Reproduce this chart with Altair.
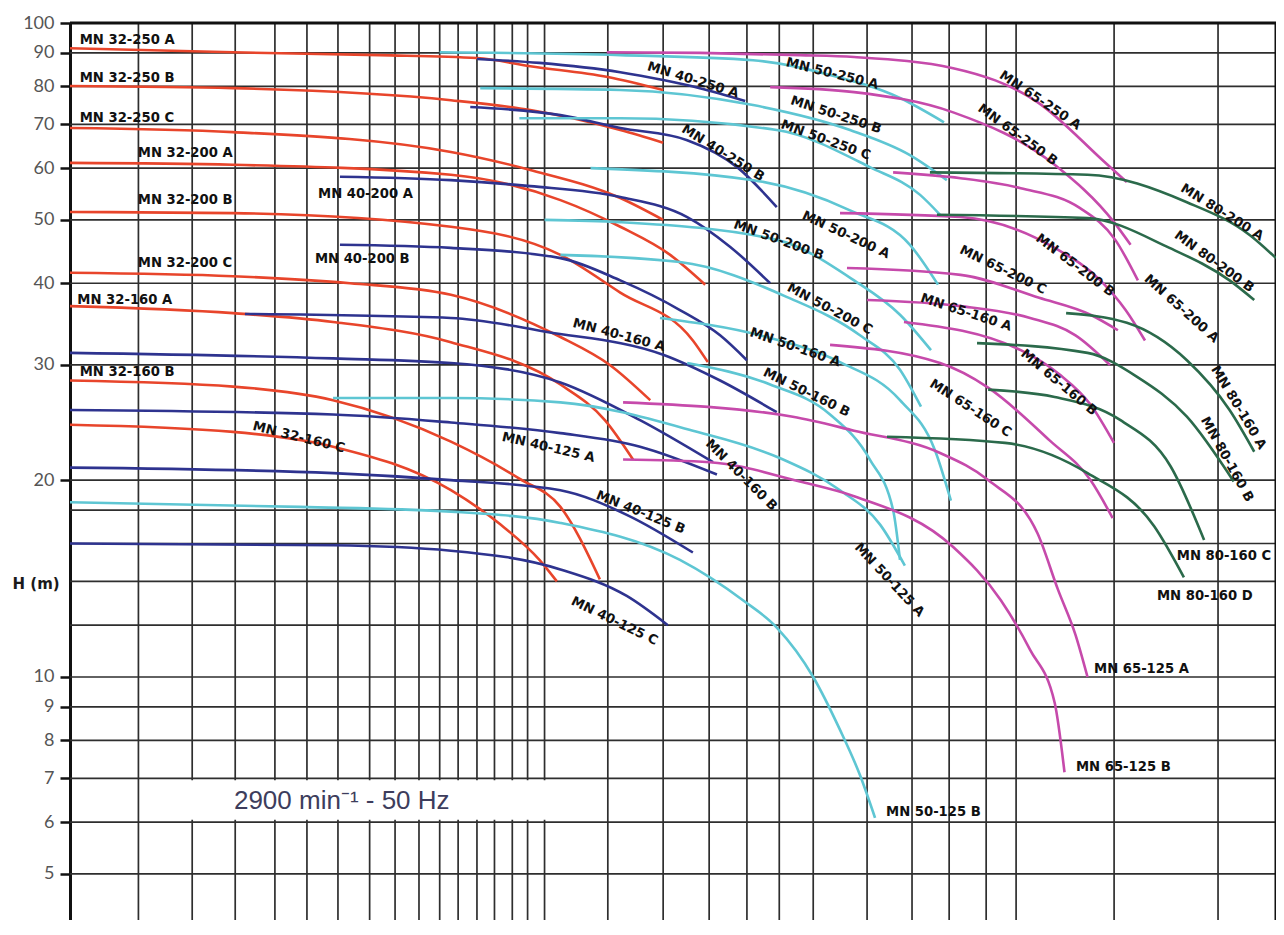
import altair as alt
import pandas as pd

# ---------------- axes / grid values ----------------
Q_DOMAIN = [3.05, 363]      # flow (no printed labels in the reference)
H_DOMAIN = [4.25, 100]      # head H (m)

GRID_Q = [4.0, 4.95, 5.87, 6.87, 7.8, 8.82, 10.0, 11.06, 12.16, 13.2, 14.2, 15.3,
          16.4, 17.6, 18.7, 20.0, 25.7, 32.0, 38.4, 44.6, 50.7, 58.0, 71.8, 85.8,
          99.4, 115.1, 129.6, 191.1, 288.5]
GRID_H = [5, 6, 7, 8, 9, 10, 12, 14, 16, 18, 20, 30, 40, 50, 60, 70, 80, 90]
H_TICKS = [5, 6, 7, 8, 9, 10, 20, 30, 40, 50, 60, 70, 80, 90, 100]

# ---------------- pump curves (Q, H) ----------------
MN32 = {
    "MN 32-250 A": ([3.05, 5.82, 10.4, 15.3, 18.9, 25.7, 32.0], [91.5, 90.2, 89.3, 88.4, 85.9, 82.7, 79.0]),
    "MN 32-250 B": ([3.05, 5.82, 13.8, 18.9, 27.0, 32.0], [80.1, 79.5, 76.2, 73.6, 68.6, 65.6]),
    "MN 32-250 C": ([3.05, 5.82, 13.8, 18.9, 27.0, 32.0], [69.1, 68.1, 63.5, 59.6, 54.0, 50.0]),
    "MN 32-200 A": ([3.05, 5.82, 13.8, 21.3, 27.0, 32.9, 37.8], [61.1, 60.7, 58.6, 53.6, 48.8, 44.2, 39.8]),
    "MN 32-200 B": ([3.05, 5.82, 13.8, 21.3, 27.0, 36.0, 38.2], [51.4, 51.2, 48.8, 44.2, 38.7, 32.7, 30.3]),
    "MN 32-200 C": ([3.05, 5.82, 9.25, 13.8, 21.3, 25.9, 30.4], [41.5, 41.0, 40.0, 38.4, 33.1, 30.0, 26.5]),
    "MN 32-160 A": ([3.05, 5.82, 8.65, 13.8, 21.3, 25.4, 28.4], [36.9, 36.0, 34.9, 32.5, 28.0, 24.7, 21.5]),
    "MN 32-160 B": ([3.05, 5.82, 8.65, 13.8, 18.1, 21.3, 24.9], [28.4, 27.8, 26.5, 22.9, 20.1, 18.2, 14.1]),
    "MN 32-160 C": ([3.05, 5.82, 8.65, 13.8, 16.8, 19.6, 21.0], [24.3, 23.7, 22.5, 19.3, 17.1, 15.1, 14.0]),
}
MN40 = {
    "MN 40-250 A": ([15.3, 19.6, 27.0, 32.0, 37.0, 44.3], [88.1, 86.9, 84.1, 81.8, 79.5, 76.0]),
    "MN 40-250 B": ([14.9, 21.3, 27.0, 35.2, 42.9, 50.2], [74.4, 72.3, 69.1, 66.2, 60.2, 52.3]),
    "MN 40-200 A": ([8.89, 13.8, 18.9, 27.0, 35.2, 41.7, 48.9], [58.2, 57.5, 56.3, 54.2, 50.5, 45.5, 40.0]),
    "MN 40-200 B": ([8.89, 13.8, 21.3, 27.0, 34.2, 40.1, 44.6], [45.8, 45.3, 43.7, 40.4, 36.4, 33.3, 30.5]),
    "MN 40-160 A": ([6.10, 13.8, 20.2, 32.0, 40.1, 50.2], [35.9, 35.4, 33.7, 31.1, 28.4, 25.4]),
    "MN 40-160 B": ([3.05, 8.65, 13.8, 21.3, 29.2, 39.0], [31.3, 30.7, 30.2, 28.2, 24.7, 21.3]),
    "MN 40-125 A": ([3.05, 8.65, 13.8, 21.3, 29.2, 39.6], [25.6, 25.2, 24.5, 23.6, 22.5, 20.4]),
    "MN 40-125 B": ([3.05, 8.65, 13.8, 21.3, 27.7, 36.0], [20.9, 20.5, 20.0, 19.3, 17.7, 15.5]),
    "MN 40-125 C": ([3.05, 8.65, 13.8, 21.3, 27.7, 32.6], [16.0, 15.9, 15.6, 14.6, 13.3, 12.0]),
}
MN50 = {
    "MN 50-250 A": ([13.2, 27.0, 45.7, 62.0, 81.8, 97.4], [90.2, 89.3, 87.7, 83.3, 76.8, 70.5]),
    "MN 50-250 B": ([15.5, 27.0, 45.7, 67.1, 85.1, 98.5], [79.5, 79.0, 74.9, 68.6, 62.8, 57.5]),
    "MN 50-250 C": ([18.1, 27.0, 50.2, 72.6, 88.6, 95.9], [71.5, 71.5, 68.6, 60.2, 54.6, 50.9]),
    "MN 50-200 A": ([24.0, 45.7, 67.1, 85.1, 95.1], [60.0, 57.5, 51.7, 45.8, 39.8]),
    "MN 50-200 B": ([20.0, 27.0, 50.2, 68.2, 81.8, 92.5], [50.0, 49.6, 46.6, 40.4, 35.8, 31.6]),
    "MN 50-200 C": ([21.3, 34.2, 52.3, 69.8, 81.8, 88.9], [44.2, 43.1, 38.1, 33.3, 29.5, 25.9]),
    "MN 50-160 A": ([31.6, 47.0, 64.5, 81.8, 94.0, 100.1], [35.4, 33.3, 30.3, 26.5, 22.2, 18.6]),
    "MN 50-160 B": ([35.2, 48.9, 62.0, 72.6, 79.6, 81.8], [30.2, 28.0, 25.2, 21.5, 18.0, 15.1]),
    "MN 50-125 A": ([8.65, 13.8, 21.3, 36.0, 50.9, 64.5, 75.6, 83.4], [26.7, 26.7, 26.3, 23.8, 21.6, 19.3, 17.1, 14.8]),
    "MN 50-125 B": ([3.05, 7.59, 13.8, 21.3, 34.2, 43.9, 50.2, 58.0, 64.5, 69.8, 74.1],
                    [18.5, 18.2, 17.9, 17.2, 15.1, 13.1, 11.9, 10.0, 8.30, 7.08, 6.09]),
}
MN65 = {
    "MN 65-250 A": ([25.6, 37.0, 55.0, 68.2, 101, 141, 184, 201], [90.2, 90.0, 89.3, 88.7, 85.3, 75.7, 61.3, 57.1]),
    "MN 65-250 B": ([48.9, 68.2, 101, 151, 191, 204], [79.8, 78.4, 73.0, 60.7, 49.6, 45.8]),
    "MN 65-200 A": ([79.6, 104, 132, 167, 192, 210], [59.1, 57.9, 55.9, 52.1, 46.6, 40.4]),
    "MN 65-200 B": ([64.5, 104, 151, 181, 200, 216], [51.2, 50.5, 45.3, 40.4, 36.4, 32.7]),
    "MN 65-200 C": ([66.3, 104, 142, 174, 194], [42.2, 41.2, 38.0, 35.8, 33.9]),
    "MN 65-160 A": ([71.8, 104, 137, 164, 188], [37.7, 36.9, 35.4, 33.3, 30.0]),
    "MN 65-160 B": ([83.1, 132, 154, 174, 191], [34.9, 31.6, 29.0, 26.1, 22.8]),
    "MN 65-160 C": ([62.0, 95.9, 116, 148, 174, 190], [32.2, 30.2, 27.7, 23.0, 20.0, 17.5]),
    "MN 65-125 A": ([27.3, 53.5, 68.2, 95.9, 116, 141, 153, 164, 172],
                    [26.3, 25.0, 23.8, 22.0, 20.0, 16.6, 13.6, 11.6, 10.0]),
    "MN 65-125 B": ([27.3, 38.5, 55.0, 68.2, 101, 122, 137, 151, 157],
                    [21.5, 21.3, 19.9, 18.9, 15.8, 13.1, 11.0, 9.13, 7.15]),
}
MN80 = {
    "MN 80-200 A": ([92.1, 172, 255, 327, 363], [59.1, 58.6, 53.2, 47.4, 43.7]),
    "MN 80-200 B": ([94.7, 172, 238, 302, 333], [50.9, 50.3, 45.3, 40.4, 37.7]),
    "MN 80-160 A": ([158, 201, 255, 302, 333], [36.0, 34.8, 30.5, 25.6, 22.1]),
    "MN 80-160 B": ([111, 172, 209, 255, 307], [32.4, 31.3, 28.8, 25.0, 19.9]),
    "MN 80-160 C": ([116, 151, 196, 239, 273], [27.5, 26.8, 24.7, 21.0, 16.2]),
    "MN 80-160 D": ([77.7, 124, 172, 224, 252], [23.3, 22.8, 20.5, 17.0, 14.2]),
}

FAMILIES = ["MN 32", "MN 40", "MN 50", "MN 65", "MN 80"]
FAMILY_COLORS = ["#e8452b", "#2e338f", "#5ec6d3", "#c64aab", "#2b6a4b"]

# ---------------- curve labels ----------------
LABEL_TEXT = ["MN 32-250 A", "MN 32-250 B", "MN 32-250 C", "MN 32-200 A", "MN 32-200 B", "MN 32-200 C",
              "MN 32-160 A", "MN 32-160 B", "MN 32-160 C", "MN 40-200 A", "MN 40-200 B", "MN 40-250 A",
              "MN 40-250 B", "MN 40-160 A", "MN 40-160 B", "MN 40-125 A", "MN 40-125 B", "MN 40-125 C",
              "MN 50-250 A", "MN 50-250 B", "MN 50-250 C", "MN 50-200 A", "MN 50-200 B", "MN 50-200 C",
              "MN 50-160 A", "MN 50-160 B", "MN 50-125 A", "MN 50-125 B", "MN 65-250 A", "MN 65-250 B",
              "MN 65-200 A", "MN 65-200 B", "MN 65-200 C", "MN 65-160 A", "MN 65-160 B", "MN 65-160 C",
              "MN 65-125 A", "MN 65-125 B", "MN 80-200 A", "MN 80-200 B", "MN 80-160 A", "MN 80-160 B",
              "MN 80-160 C", "MN 80-160 D"]
LABEL_Q = [3.17, 3.17, 3.17, 3.99, 3.99, 3.99, 3.14, 3.17, 6.30, 8.15, 8.05, 30.1,
           34.6, 22.4, 38.2, 16.9, 24.6, 22.3, 52.1, 53.1, 51.1, 55.7, 42.4, 52.5,
           45.2, 47.7, 69.0, 77.4, 122, 112, 217, 141, 104, 88.9, 133, 92.5,
           176.5, 164.3, 250, 244, 284, 273, 245, 226.5]
LABEL_H = [94.1, 82.4, 71.5, 63.3, 53.6, 43.0, 37.7, 29.3, 24.2, 54.8, 43.6, 85.9,
           69.1, 34.8, 22.9, 23.3, 19.0, 13.1, 87.1, 76.2, 70.1, 50.9, 49.3, 39.5,
           33.7, 29.3, 15.9, 6.21, 83.6, 74.4, 40.9, 47.1, 45.1, 38.0, 31.4, 28.2,
           10.3, 7.29, 56.1, 47.6, 29.8, 24.9, 15.3, 13.3]
LABEL_ANGLE = [0, 0, 0, 0, 0, 0, 0, 0, 14, 0, 0, 17,
               32, 15, 45, 13, 22, 26, 14, 18, 20, 25, 20, 28,
               19, 26, 47, 0, 34, 36, 42, 37, 26, 18, 40, 33,
               0, 0, 32, 36, 59, 61, 0, 0]

NOTE_TEXT = "2900 min⁻¹ - 50 Hz"
NOTE_Q, NOTE_H = 5.84, 6.46
NOTE_BOX = {"q1": 4.22, "q2": 20.8, "h1": 6.05, "h2": 6.95}

# ---------------- build tables ----------------
rows = []
for fam, group in zip(FAMILIES, [MN32, MN40, MN50, MN65, MN80]):
    for name, (qs, hs) in group.items():
        for q, h in zip(qs, hs):
            rows.append({"series": name, "family": fam, "Q": q, "H": h})
curves = pd.DataFrame(rows)
labels = pd.DataFrame({"text": LABEL_TEXT, "Q": LABEL_Q, "H": LABEL_H, "angle": LABEL_ANGLE})
grid_q = pd.DataFrame({"Q": GRID_Q})
grid_h = pd.DataFrame({"H": GRID_H})

xs = alt.Scale(type="log", domain=Q_DOMAIN, nice=False)
ys = alt.Scale(type="log", domain=H_DOMAIN, nice=False)

y_axis = alt.Axis(values=H_TICKS, grid=False, format="d", title="H (m)", titleAngle=0,
                  titleX=-58, titleY=560, titleAlign="left", titleBaseline="middle",
                  titleFont="DejaVu Sans", titleFontSize=15, titleFontWeight="bold",
                  titleColor="#1a1a1a", labelFont="Lato", labelFontSize=18,
                  labelColor="#555555", labelPadding=6, tickSize=10, tickWidth=2.5,
                  tickColor="#111111", domainWidth=3, domainColor="#111111",
                  labelOverlap=False, labelFlush=False)


def X(field="Q"):
    return alt.X(f"{field}:Q", scale=xs, axis=None)


def Y(field="H"):
    return alt.Y(f"{field}:Q", scale=ys, axis=y_axis)


vgrid = alt.Chart(grid_q).mark_rule(color="#2e2e2e", strokeWidth=1.7).encode(x=X())
box = alt.Chart(pd.DataFrame([NOTE_BOX])).mark_rect(color="white").encode(
    x=alt.X("q1:Q", scale=xs, axis=None), x2="q2:Q",
    y=alt.Y("h1:Q", scale=ys, axis=y_axis), y2="h2:Q")
hgrid = alt.Chart(grid_h).mark_rule(color="#2e2e2e", strokeWidth=1.7).encode(y=Y())
top_border = alt.Chart(pd.DataFrame({"H": [H_DOMAIN[1]]})).mark_rule(
    color="#111111", strokeWidth=3).encode(y=Y())
right_border = alt.Chart(pd.DataFrame({"Q": [Q_DOMAIN[1]]})).mark_rule(
    color="#111111", strokeWidth=3).encode(x=X())

lines = alt.Chart(curves).mark_line(strokeWidth=2.6, interpolate="monotone").encode(
    x=X(), y=Y(),
    color=alt.Color("family:N", scale=alt.Scale(domain=FAMILIES, range=FAMILY_COLORS), legend=None),
    detail="series:N")

text = alt.Chart(labels).mark_text(align="left", baseline="middle", font="DejaVu Sans",
                                   fontWeight="bold", fontSize=13.2, color="#111111").encode(
    x=X(), y=Y(), text="text:N", angle=alt.Angle("angle:Q", scale=None))

note = alt.Chart(pd.DataFrame({"Q": [NOTE_Q], "H": [NOTE_H], "t": [NOTE_TEXT]})).mark_text(
    align="left", baseline="middle", font="Liberation Sans", fontSize=26,
    color="#3d3d5c").encode(x=X(), y=Y(), text="t:N")

chart = alt.layer(vgrid, box, hgrid, top_border, right_border, lines, text, note).properties(
    width=1206, height=897,
    autosize=alt.AutoSizeParams(type="none"),
    padding={"left": 62, "top": 15, "right": 0, "bottom": 0},
).configure_view(stroke=None).configure(background="white")

chart.save("out.html", embed_options={"renderer": "svg", "actions": False})
